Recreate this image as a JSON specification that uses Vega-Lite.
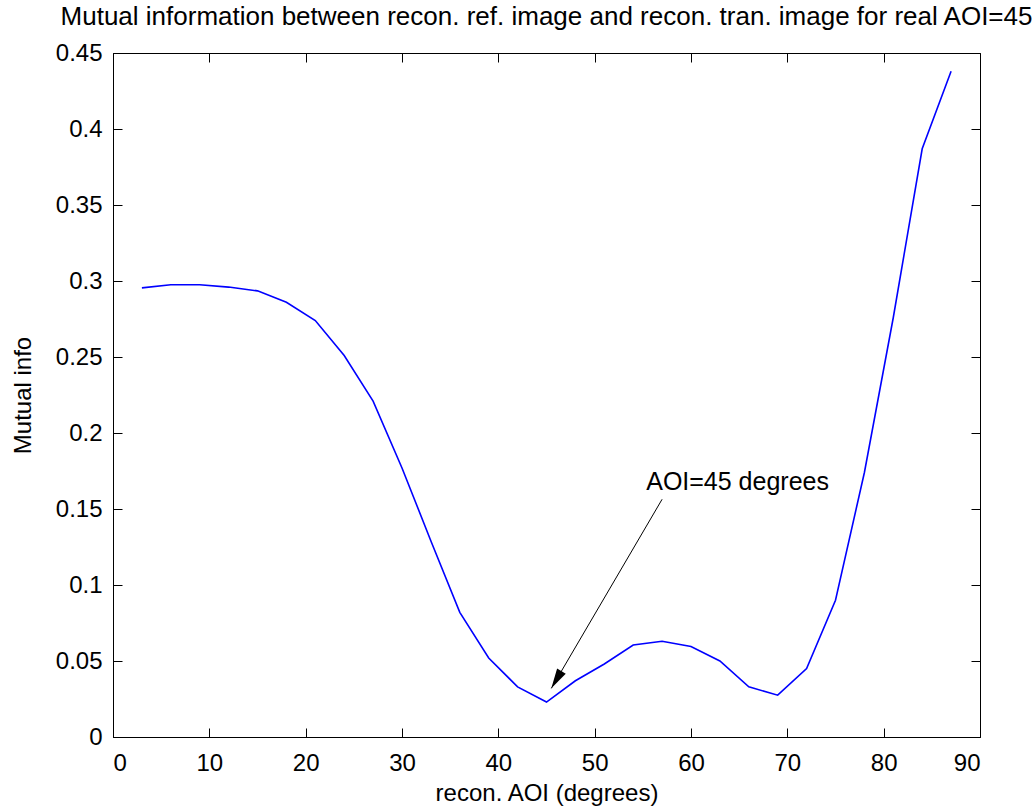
{
  "$schema": "https://vega.github.io/schema/vega-lite/v6.json",
  "width": 867,
  "height": 684,
  "autosize": {"type": "none"},
  "padding": {"left": 113, "top": 53, "right": 52, "bottom": 71},
  "background": "white",
  "config": {
    "view": {"stroke": "black", "strokeWidth": 1},
    "font": "Liberation Sans",
    "axis": {
      "domainColor": "black",
      "tickColor": "black",
      "labelColor": "black",
      "titleColor": "black",
      "labelFont": "Liberation Sans",
      "titleFont": "Liberation Sans",
      "titleFontWeight": "normal",
      "grid": false
    }
  },
  "title": {
    "text": "Mutual information between recon. ref. image and recon. tran. image for real AOI=45",
    "fontSize": 26,
    "font": "Liberation Sans",
    "fontWeight": "normal",
    "color": "black",
    "anchor": "middle",
    "baseline": "alphabetic",
    "offset": -10
  },
  "datasets": {
    "curve": [
      {"aoi": 3, "mi": 0.2955},
      {"aoi": 6, "mi": 0.2975},
      {"aoi": 9, "mi": 0.2975},
      {"aoi": 12, "mi": 0.296},
      {"aoi": 15, "mi": 0.2935},
      {"aoi": 18, "mi": 0.286},
      {"aoi": 21, "mi": 0.274},
      {"aoi": 24, "mi": 0.251},
      {"aoi": 27, "mi": 0.221},
      {"aoi": 30, "mi": 0.177},
      {"aoi": 33, "mi": 0.129},
      {"aoi": 36, "mi": 0.082},
      {"aoi": 39, "mi": 0.052},
      {"aoi": 42, "mi": 0.033},
      {"aoi": 45, "mi": 0.023},
      {"aoi": 48, "mi": 0.037},
      {"aoi": 51, "mi": 0.048},
      {"aoi": 54, "mi": 0.0605},
      {"aoi": 57, "mi": 0.063},
      {"aoi": 60, "mi": 0.0595},
      {"aoi": 63, "mi": 0.05},
      {"aoi": 66, "mi": 0.033},
      {"aoi": 69, "mi": 0.0275},
      {"aoi": 72, "mi": 0.045},
      {"aoi": 75, "mi": 0.09},
      {"aoi": 78, "mi": 0.174},
      {"aoi": 81, "mi": 0.276},
      {"aoi": 84, "mi": 0.387},
      {"aoi": 87, "mi": 0.438}
    ],
    "arrow": [
      {"x1": 57.0, "y1": 0.1564, "x2": 45.5, "y2": 0.032}
    ],
    "label": [
      {"x": 55.35, "y": 0.1625, "text": "AOI=45 degrees"}
    ]
  },
  "layer": [
    {
      "data": {"name": "curve"},
      "mark": {"type": "line", "color": "#0000ff", "strokeWidth": 1.6, "clip": true},
      "encoding": {
        "x": {
          "field": "aoi", "type": "quantitative",
          "scale": {"domain": [0, 90], "nice": false, "zero": false},
          "axis": {
            "orient": "bottom",
            "values": [0, 10, 20, 30, 40, 50, 60, 70, 80, 90],
            "tickSize": -9,
            "labelPadding": 23,
            "labelFontSize": 24,
            "title": "recon. AOI (degrees)",
            "titleFontSize": 24,
            "titlePadding": 6
          }
        },
        "y": {
          "field": "mi", "type": "quantitative",
          "scale": {"domain": [0, 0.45], "nice": false, "zero": false},
          "axis": {
            "orient": "left",
            "values": [0, 0.05, 0.1, 0.15, 0.2, 0.25, 0.3, 0.35, 0.4, 0.45],
            "format": ".2~f",
            "tickSize": -9,
            "labelPadding": 20,
            "labelFontSize": 24,
            "title": "Mutual info",
            "titleFontSize": 24,
            "titlePadding": 20
          }
        }
      }
    },
    {
      "data": {"name": "curve"},
      "mark": {"type": "point", "opacity": 0},
      "encoding": {
        "x": {
          "field": "aoi", "type": "quantitative",
          "axis": {"orient": "top", "values": [0, 10, 20, 30, 40, 50, 60, 70, 80, 90], "tickSize": -9, "labels": false, "domain": false, "title": null}
        },
        "y": {
          "field": "mi", "type": "quantitative",
          "axis": {"orient": "right", "values": [0, 0.05, 0.1, 0.15, 0.2, 0.25, 0.3, 0.35, 0.4, 0.45], "tickSize": -9, "labels": false, "domain": false, "title": null}
        }
      }
    },
    {
      "data": {"name": "arrow"},
      "mark": {"type": "rule", "color": "black", "strokeWidth": 1},
      "encoding": {
        "x": {"field": "x1", "type": "quantitative", "axis": null},
        "y": {"field": "y1", "type": "quantitative", "axis": null},
        "x2": {"field": "x2"},
        "y2": {"field": "y2"}
      }
    },
    {
      "data": {"name": "arrow"},
      "mark": {"type": "point", "shape": "M0,0L0.25,1L-0.25,1Z", "filled": true, "color": "black", "opacity": 1, "size": 1600, "angle": 210.4, "strokeWidth": 0},
      "encoding": {
        "x": {"field": "x2", "type": "quantitative", "axis": null},
        "y": {"field": "y2", "type": "quantitative", "axis": null}
      }
    },
    {
      "data": {"name": "label"},
      "mark": {"type": "text", "align": "left", "baseline": "alphabetic", "fontSize": 25, "font": "Liberation Sans", "color": "black"},
      "encoding": {
        "x": {"field": "x", "type": "quantitative", "axis": null},
        "y": {"field": "y", "type": "quantitative", "axis": null},
        "text": {"field": "text"}
      }
    }
  ],
  "resolve": {"axis": {"x": "independent", "y": "independent"}}
}
